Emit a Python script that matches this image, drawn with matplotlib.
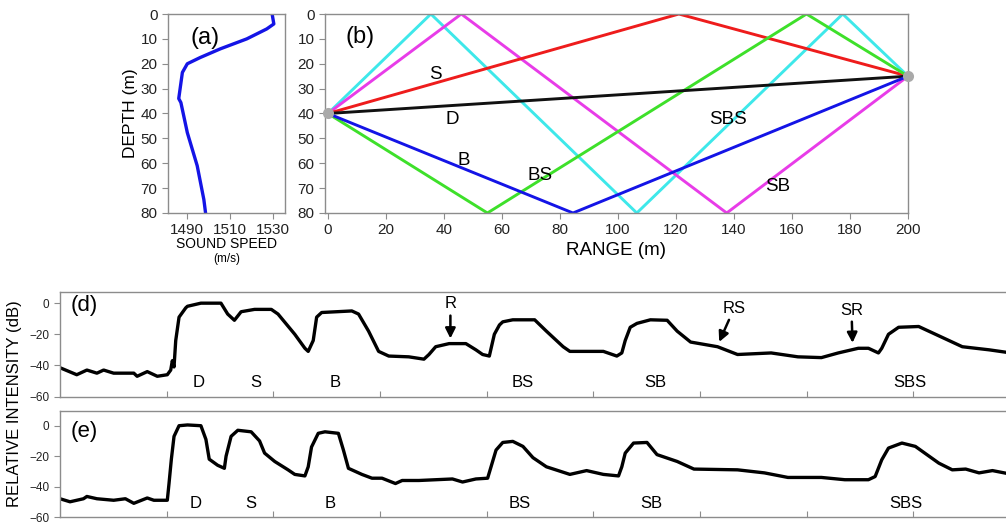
import matplotlib
matplotlib.use("Agg")
import matplotlib.pyplot as plt

plt.rcParams["font.family"] = ["Liberation Sans", "DejaVu Sans"]

# (a) sound speed profile
speed = [1529.5, 1530.3, 1527.0, 1517.7, 1505.4, 1496.0, 1490.0, 1487.7, 1486.0, 1487.0, 1490.0, 1494.6, 1497.7, 1498.5]
speed_depth = [0, 4, 6, 10, 14, 17.5, 20, 23.5, 34, 35.6, 47.7, 61, 74.6, 80]

# (b) eigenrays: range / depth vertices
source = (0, 40)
receiver = (200, 25)
ray_names = ["SBS", "SB", "S", "BS", "D", "B"]
ray_colors = {"S": "#ee1c1c", "D": "#111111", "B": "#1414e6", "BS": "#3ee02a",
              "SB": "#e83ce8", "SBS": "#3ee8ea"}
ray_range = {
    "D": [0, 200],
    "S": [0, 121, 200],
    "B": [0, 84.5, 200],
    "BS": [0, 55, 165, 200],
    "SB": [0, 46, 137.5, 200],
    "SBS": [0, 35.5, 106.5, 177.5, 200],
}
ray_depth = {
    "D": [40, 25],
    "S": [40, 0, 25],
    "B": [40, 80, 25],
    "BS": [40, 80, 0, 25],
    "SB": [40, 0, 80, 25],
    "SBS": [40, 0, 80, 0, 25],
}
ray_label_pos = {"S": (37, 24.5), "D": (43, 42.5), "B": (47, 59), "BS": (73, 65),
                 "SBS": (138, 42.5), "SB": (155, 69.5)}

# (d) measured trace
t_d = [0.000, 0.157, 0.252, 0.346, 0.409, 0.503, 0.692, 0.723, 0.818, 0.912, 1.006, 1.038,
       1.053, 1.069, 1.085, 1.116, 1.179, 1.195, 1.321, 1.509, 1.572, 1.635, 1.698, 1.824,
       1.981, 2.044, 2.201, 2.296, 2.327, 2.374, 2.406, 2.453, 2.736, 2.799, 2.893, 2.987,
       3.082, 3.270, 3.412, 3.459, 3.522, 3.648, 3.805, 3.899, 3.962, 4.025, 4.072, 4.120,
       4.151, 4.245, 4.450, 4.560, 4.717, 4.780, 5.094, 5.220, 5.267, 5.299, 5.346, 5.409,
       5.535, 5.692, 5.786, 5.912, 6.164, 6.352, 6.667, 6.918, 7.138, 7.296, 7.484, 7.579,
       7.673, 7.704, 7.767, 7.862, 8.050, 8.239, 8.459, 8.711, 8.915]
db_d = [-41.5, -46, -43, -45, -43, -45, -45, -47, -44, -47, -46, -43,
        -37, -41, -24, -9, -3, -2, 0, 0, -7, -11, -5.5, -4,
        -4, -7, -20, -29, -31, -24, -9, -6, -5, -7, -18, -31,
        -34, -34.5, -36, -33, -28, -26, -26, -30, -33, -34, -20, -14,
        -12, -10.7, -10.7, -18, -28, -31, -31, -34, -32, -24, -15.5, -13,
        -10.7, -11, -18, -25, -28, -33, -32, -34.5, -35, -32, -29, -29,
        -32, -29, -20, -15.5, -15, -21, -28, -30, -32]

# (e) modelled trace
t_e = [0.000, 0.094, 0.220, 0.252, 0.346, 0.503, 0.613, 0.692, 0.818, 0.880, 1.006, 1.022,
       1.044, 1.069, 1.116, 1.195, 1.321, 1.368, 1.399, 1.478, 1.541, 1.557, 1.604, 1.667,
       1.792, 1.871, 1.918, 2.013, 2.138, 2.201, 2.296, 2.327, 2.358, 2.421, 2.484, 2.610,
       2.657, 2.704, 2.830, 2.925, 3.019, 3.145, 3.208, 3.365, 3.522, 3.679, 3.774, 3.899,
       4.009, 4.041, 4.088, 4.151, 4.245, 4.340, 4.434, 4.560, 4.780, 4.937, 5.094, 5.236,
       5.267, 5.299, 5.377, 5.503, 5.597, 5.786, 5.943, 6.352, 6.604, 6.824, 7.138, 7.358,
       7.579, 7.642, 7.704, 7.767, 7.893, 8.019, 8.239, 8.365, 8.491, 8.616, 8.742, 8.925]
db_e = [-48, -50, -48, -46.5, -48, -49, -48, -51, -47.5, -49, -49, -38,
        -22, -7, 0, 0.5, 0, -9, -22, -26, -28, -20, -7, -3,
        -4, -10, -18, -23.5, -29, -32, -33, -27, -14, -5, -4, -5,
        -16, -28, -32, -34.5, -34.5, -38, -36, -36, -35.5, -35, -37, -35,
        -34.5, -27, -16, -11, -10.3, -13.6, -21, -27, -32, -29.5, -32, -33,
        -27, -18, -11.4, -11, -19, -23.5, -28.5, -29, -31, -34, -34, -35.5,
        -35.5, -33.4, -22.4, -14.7, -11.4, -13.6, -24.6, -29, -28.5, -31, -29.5, -32]

arrival_names = ["D", "S", "B", "BS", "SB", "SBS"]
arrival_t_d = [1.30, 1.84, 2.58, 4.34, 5.58, 7.97]
arrival_t_e = [1.27, 1.79, 2.53, 4.31, 5.54, 7.93]

# reflected-path arrows in (d): label, text position, arrow tip
arrow_labels = ["R", "RS", "SR"]
arrow_text = [(3.66, -0.5), (6.32, -3.3), (7.42, -4.4)]
arrow_tip = [(3.66, -22.7), (6.18, -24.9), (7.43, -25.5)]

W, H = 1006, 523
SPINE = "#8c8c8c"


def box(left, top, right, bottom):
    return [left / W, 1 - bottom / H, (right - left) / W, (bottom - top) / H]


def style(ax, size):
    for s in ax.spines.values():
        s.set_color(SPINE)
        s.set_linewidth(1.0)
    ax.tick_params(colors=SPINE, labelcolor="#222222", labelsize=size, length=4, width=0.8)


fig = plt.figure(figsize=(W / 100, H / 100), dpi=100)

# ---- (a)
ax_a = fig.add_axes(box(168, 14, 285, 213))
ax_a.plot(speed, speed_depth, color="#1414e6", lw=2.4)
ax_a.set_xlim(1481, 1535.5)
ax_a.set_ylim(80, 0)
ax_a.set_xticks([1490, 1510, 1530])
ax_a.set_yticks(range(0, 81, 10))
style(ax_a, 11)
ax_a.set_ylabel("DEPTH (m)", fontsize=12.5, labelpad=2)
ax_a.set_xlabel("SOUND SPEED", fontsize=10, labelpad=0)
ax_a.text(0.5, -0.232, "(m/s)", transform=ax_a.transAxes, ha="center", va="center", fontsize=8.5)
ax_a.text(0.32, 0.88, "(a)", transform=ax_a.transAxes, ha="center", va="center", fontsize=17)

# ---- (b)
ax_b = fig.add_axes(box(325, 14, 908, 213))
for name in ray_names:
    ax_b.plot(ray_range[name], ray_depth[name], color=ray_colors[name], lw=2.1, zorder=2)
for name, (x, y) in ray_label_pos.items():
    ax_b.text(x, y, name, ha="center", va="center", fontsize=13.5)
ax_b.plot([source[0], receiver[0]], [source[1], receiver[1]], "o", color="#a9a9a9",
          ms=8, mec="none", clip_on=False, zorder=5)
ax_b.set_xlim(-1, 200)
ax_b.set_ylim(80, 0)
ax_b.set_xticks(range(0, 201, 20))
ax_b.set_yticks(range(0, 81, 10))
style(ax_b, 11)
ax_b.set_xlabel("RANGE (m)", fontsize=13.5, labelpad=3)
ax_b.text(0.06, 0.885, "(b)", transform=ax_b.transAxes, ha="center", va="center", fontsize=17)


# ---- (d), (e)
def trace_panel(rect, t, db, t_lab, tag, top, tag_y):
    ax = fig.add_axes(rect)
    ax.plot(t, db, color="black", lw=2.4)
    ax.set_xlim(0, 8.925)
    ax.set_ylim(-60, top)
    ax.set_yticks([0, -20, -40, -60])
    ax.set_xticks(range(1, 9))
    style(ax, 8.5)
    ax.tick_params(axis="x", direction="in", length=4, labelbottom=False)
    for name, x in zip(arrival_names, t_lab):
        ax.text(x, -51, name, ha="center", va="center", fontsize=12)
    ax.text(0.1, tag_y, tag, ha="left", va="center", fontsize=16)
    return ax


ax_d = trace_panel(box(60, 291.5, 1012, 396.5), t_d, db_d, arrival_t_d, "(d)", 7.5, -1.5)
for lab, (tx, ty), (hx, hy) in zip(arrow_labels, arrow_text, arrow_tip):
    ax_d.annotate(lab, xy=(hx, hy), xytext=(tx, ty), ha="center", va="center", fontsize=12,
                  arrowprops=dict(arrowstyle="-|>", color="black", lw=1.8, mutation_scale=15,
                                  shrinkA=1, shrinkB=0))

ax_e = trace_panel(box(60, 410.5, 1012, 517), t_e, db_e, arrival_t_e, "(e)", 10, -4)

fig.text(15 / W, 1 - 404 / H, "RELATIVE INTENSITY (dB)", rotation=90, ha="center",
         va="center", fontsize=12)

fig.savefig("out.png", dpi=100)
